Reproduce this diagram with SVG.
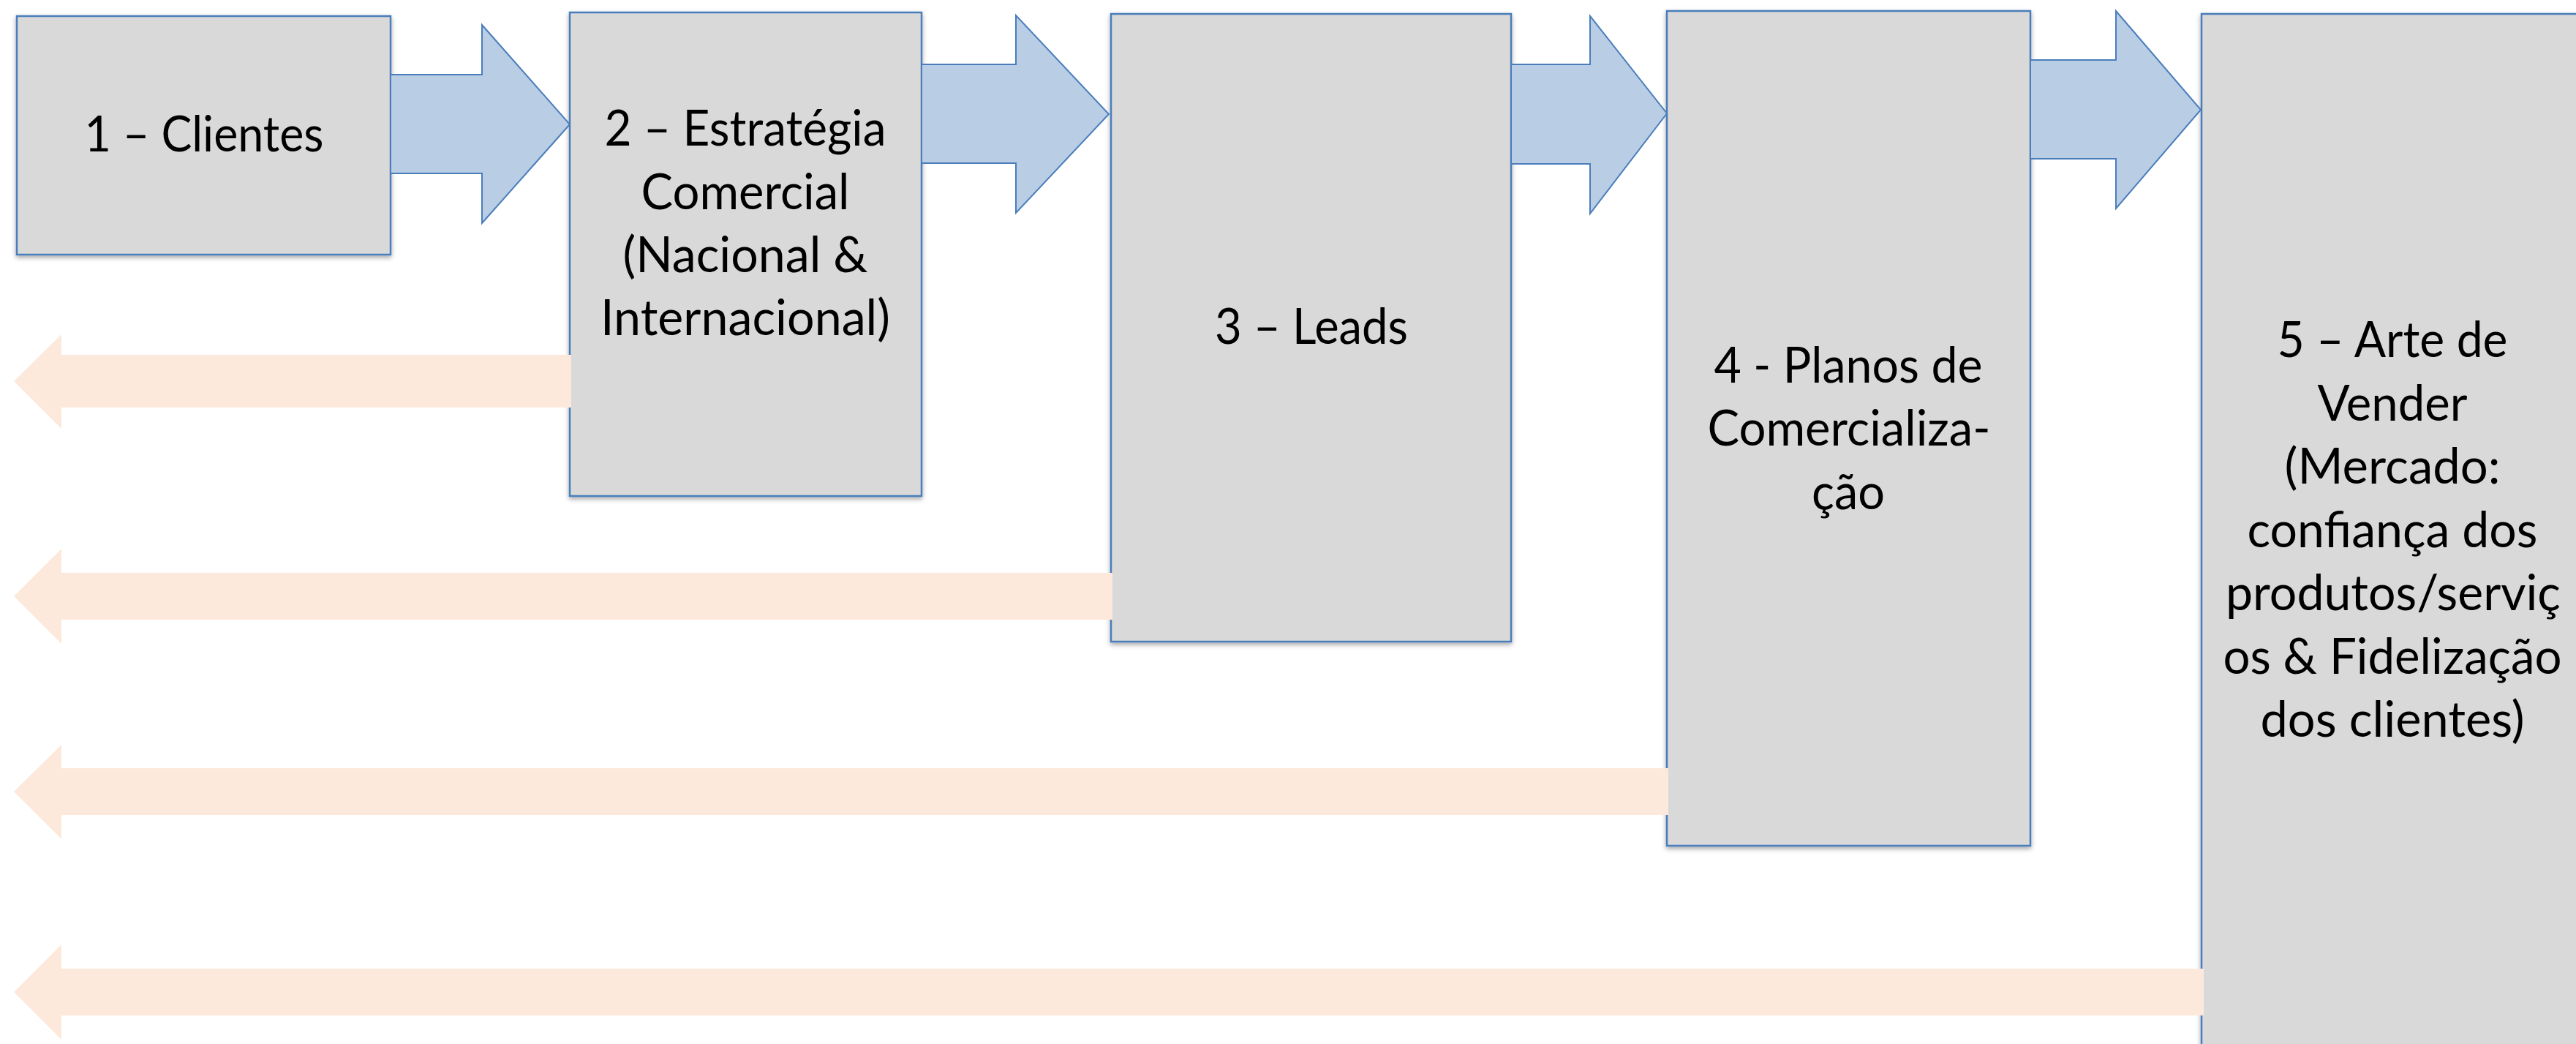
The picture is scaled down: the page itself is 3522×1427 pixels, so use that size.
<svg xmlns="http://www.w3.org/2000/svg" width="3522" height="1427" viewBox="0 0 3522 1427">
  <defs>
    <filter id="shadow" x="-5%" y="-5%" width="110%" height="110%">
      <feDropShadow dx="0" dy="3" stdDeviation="3" flood-color="#000" flood-opacity="0.35"/>
    </filter>
  </defs>
  <style>
    .box { fill: #d9d9d9; stroke: #4a7ebb; stroke-width: 2.5; filter: url(#shadow); }
    .fwd { fill: #b9cde5; stroke: #4a7ebb; stroke-width: 2; stroke-linejoin: miter; }
    .back { fill: #fce9db; stroke: none; }
    .lbl { font-family: Lato, "Liberation Sans", sans-serif; font-size: 68px; fill: #000; text-anchor: middle; }
  </style>

  <rect width="3522" height="1427" fill="#ffffff"/>

  <!-- process steps -->
  <g id="node-1">
    <rect class="box" x="23" y="22" width="511" height="326"/>
    <text class="lbl" x="279" y="207" textLength="327" lengthAdjust="spacingAndGlyphs">1 – Clientes</text>
  </g>
  <g id="node-2">
    <rect class="box" x="779" y="17" width="481" height="661"/>
    <text class="lbl" x="1019" y="199" textLength="385" lengthAdjust="spacingAndGlyphs">2 – Estratégia</text>
    <text class="lbl" x="1019" y="286" textLength="285" lengthAdjust="spacingAndGlyphs">Comercial</text>
    <text class="lbl" x="1019" y="372" textLength="335" lengthAdjust="spacingAndGlyphs">(Nacional &amp;</text>
    <text class="lbl" x="1019" y="458" textLength="396" lengthAdjust="spacingAndGlyphs">Internacional)</text>
  </g>
  <g id="node-3">
    <rect class="box" x="1519" y="19" width="547" height="858"/>
    <text class="lbl" x="1793" y="470" textLength="264" lengthAdjust="spacingAndGlyphs">3 – Leads</text>
  </g>
  <g id="node-4">
    <rect class="box" x="2279" y="15" width="497" height="1141"/>
    <text class="lbl" x="2527" y="523" textLength="367" lengthAdjust="spacingAndGlyphs">4 - Planos de</text>
    <text class="lbl" x="2528" y="609" textLength="387" lengthAdjust="spacingAndGlyphs">Comercializa-</text>
    <text class="lbl" x="2527" y="696" textLength="100" lengthAdjust="spacingAndGlyphs">ção</text>
  </g>
  <g id="node-5">
    <rect class="box" x="3010" y="19" width="530" height="1430"/>
    <text class="lbl" x="3271" y="488" textLength="315" lengthAdjust="spacingAndGlyphs">5 – Arte de</text>
    <text class="lbl" x="3271" y="575" textLength="205" lengthAdjust="spacingAndGlyphs">Vender</text>
    <text class="lbl" x="3271" y="661" textLength="295" lengthAdjust="spacingAndGlyphs">(Mercado:</text>
    <text class="lbl" x="3271" y="748" textLength="397" lengthAdjust="spacingAndGlyphs">confiança dos</text>
    <text class="lbl" x="3272" y="834" textLength="458" lengthAdjust="spacingAndGlyphs">produtos/serviç</text>
    <text class="lbl" x="3271" y="921" textLength="463" lengthAdjust="spacingAndGlyphs">os &amp; Fidelização</text>
    <text class="lbl" x="3271" y="1007" textLength="361" lengthAdjust="spacingAndGlyphs">dos clientes)</text>
  </g>

  <!-- block arrows: forward flow (blue) and feedback to the left (peach) -->
  <g id="connectors">
    <polygon class="fwd" points="534,102 659,102 659,34 779,170 659,305 659,237 534,237"/>
    <polygon class="fwd" points="1260,88 1389,88 1389,21 1516,156 1389,291 1389,223 1260,223"/>
    <polygon class="fwd" points="2066,88 2174,88 2174,22 2279,155 2174,292 2174,224 2066,224"/>
    <polygon class="fwd" points="2776,82 2893,82 2893,15 3009,150 2893,285 2893,217 2776,217"/>

    <polygon class="back" points="781,485 84,485 84,457 19,521 84,586 84,557 781,557"/>
    <polygon class="back" points="1521,783 84,783 84,750 19,815 84,880 84,847 1521,847"/>
    <polygon class="back" points="2281,1050 84,1050 84,1018 19,1082 84,1147 84,1114 2281,1114"/>
    <polygon class="back" points="3013,1324 84,1324 84,1291 19,1356 84,1421 84,1388 3013,1388"/>
  </g>
</svg>
